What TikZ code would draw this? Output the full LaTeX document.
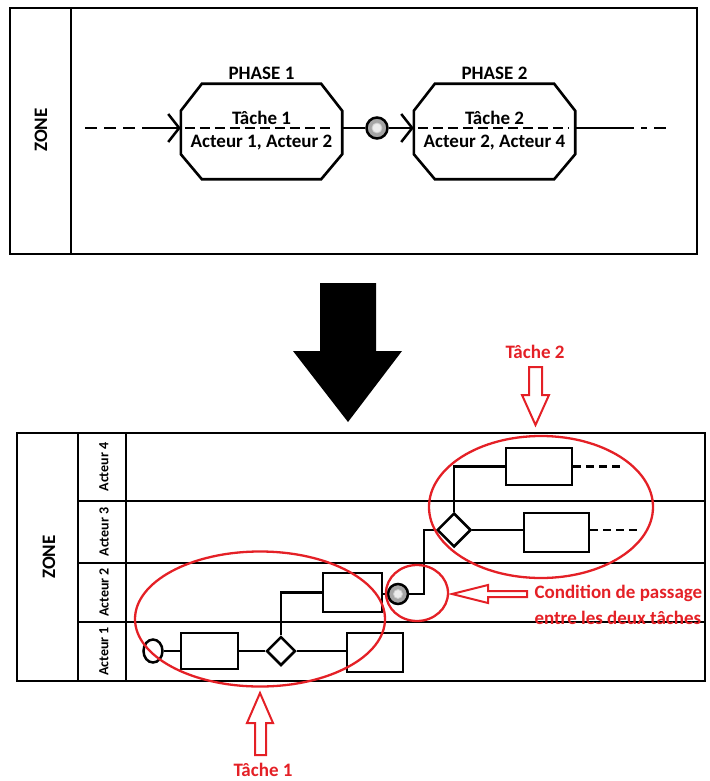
\documentclass[tikz,border=0pt]{standalone}
\usepackage{fontspec}
\setmainfont{Carlito}
\usetikzlibrary{arrows.meta, shapes.geometric, positioning, calc}
\definecolor{alertred}{RGB}{228,32,38}
\definecolor{condgray}{RGB}{165,165,165}

\begin{document}
\begin{tikzpicture}[
        x=1pt, y=-1pt,
        phase/.style={rectangle, minimum width=161pt, minimum height=95pt, inner sep=0pt},
        octline/.style={line width=2.6pt, line join=miter},
        task/.style={rectangle, draw, line width=2.5pt, inner sep=0pt},
        gate/.style={diamond, draw, line width=2.5pt, inner sep=0pt, aspect=1},
        cond/.style={circle, draw, line width=2.5pt, fill=condgray, minimum size=21pt, inner sep=0pt},
        frame/.style={line width=2.5pt},
        flow/.style={line width=2.5pt},
        tail/.style={line width=2.5pt, dash pattern=on 8pt off 5pt},
        barb/.style={line width=2.5pt, -{Straight Barb[length=11pt, width=28pt]}},
        hollow/.style={draw=alertred, line width=2pt, fill=white, line join=miter},
        redring/.style={draw=alertred, line width=2.3pt},
        redtext/.style={text=alertred, font=\fontsize{19}{26}\selectfont\bfseries},
        bigtext/.style={font=\fontsize{19}{23}\selectfont\bfseries},
        lanelabel/.style={rotate=90, font=\fontsize{14}{16}\selectfont\bfseries}
    ]
    \useasboundingbox (0,0) rectangle (709,781);

    % zone with phases
    \draw[frame] (10,8) rectangle (697,254);
    \draw[frame] (71,8) -- (71,254);
    \node[bigtext, rotate=90] (zoneA) at (41,130) {ZONE};

    \node[phase] (ph1) at (261.5,131.5) {};
    \node[phase] (ph2) at (494.5,131.5) {};
    \foreach \p in {ph1,ph2}
        \draw[octline] ($(\p.north west)+(21,0)$) -- ($(\p.north east)+(-21,0)$) -- ($(\p.north east)+(0,27)$)
            -- ($(\p.south east)+(0,-25)$) -- ($(\p.south east)+(-21,0)$) -- ($(\p.south west)+(21,0)$)
            -- ($(\p.south west)+(0,-25)$) -- ($(\p.north west)+(0,27)$) -- cycle;
    \node[bigtext, above=1pt of ph1] (ph1lbl) {PHASE 1};
    \node[bigtext, above=1pt of ph2] (ph2lbl) {PHASE 2};

    \draw[line width=2.6pt, dash pattern=on 10pt off 5pt] ($(ph1.west)+(4,-3.5)$) -- ($(ph1.east)+(-8,-3.5)$);
    \draw[line width=2.6pt, dash pattern=on 10pt off 5pt] ($(ph2.west)+(4,-3.5)$) -- ($(ph2.east)+(-6,-3.5)$);
    \node[bigtext] (t1) at ($(ph1.center)+(0,-14)$) {Tâche 1};
    \node[bigtext] (a1) at ($(ph1.center)+(0,11)$) {Acteur 1, Acteur 2};
    \node[bigtext] (t2) at ($(ph2.center)+(0,-14)$) {Tâche 2};
    \node[bigtext] (a2) at ($(ph2.center)+(0,11)$) {Acteur 2, Acteur 4};

    \node[cond] (gateA) at (377,128) {};
    \draw[gray!40, fill=gray!15, line width=0.8pt] (gateA) circle (5);

    \coordinate (inStart) at (85,128);
    \coordinate (inSolid) at (152,128);
    \coordinate (outSolid) at (622,128);
    \coordinate (outEnd) at (668,128);
    \draw[tail, dash pattern=on 12pt off 7pt] (inStart) -- (inSolid);
    \draw[barb] (inSolid) -- (ph1.west |- inSolid);
    \draw[flow] (ph1.east |- gateA) -- (gateA);
    \draw[barb] (gateA) -- (ph2.west |- gateA);
    \draw[flow] (ph2.east |- outSolid) -- (outSolid);
    \draw[tail, dash pattern=on 12pt off 7pt on 6pt off 7pt] (outSolid) -- (outEnd);

    % big arrow
    \fill (320,283) -- (376,283) -- (376,351) -- (402,351) -- (348,422) -- (293,351) -- (320,351) -- cycle;

    % zone with lanes
    \draw[frame] (17,433) rectangle (705,681);
    \draw[frame] (78,433) -- (78,681);
    \draw[frame] (126,433) -- (126,681);
    \foreach \y in {501,563,622}
        \draw[frame] (78,\y) -- (705,\y);
    \node[bigtext, rotate=90] (zoneB) at (49,557) {ZONE};
    \node[lanelabel] (lane4) at (104,467) {Acteur 4};
    \node[lanelabel] (lane3) at (104,532) {Acteur 3};
    \node[lanelabel] (lane2) at (104,592.5) {Acteur 2};
    \node[lanelabel] (lane1) at (104,651.5) {Acteur 1};

    \node[ellipse, draw, line width=2.5pt, minimum width=19pt, minimum height=23pt, inner sep=0pt] (start) at (153,651) {};
    \node[task, minimum width=57pt, minimum height=36pt] (taskA1) at (209.5,651) {};
    \node[gate, minimum width=29pt, minimum height=29pt] (gateB) at (281,651) {};
    \node[task, minimum width=56pt, minimum height=39pt] (taskA2) at (375,652.5) {};
    \node[task, minimum width=59pt, minimum height=39pt] (taskB1) at (352.5,592.5) {};
    \node[cond, minimum size=20pt] (gateC) at (398,594) {};
    \draw[gray!40, fill=gray!15, line width=0.8pt] (gateC) circle (4.5);
    \node[gate, minimum width=34pt, minimum height=34pt] (gateD) at (454,530) {};
    \node[task, minimum width=65pt, minimum height=39pt] (taskC1) at (556.5,532.5) {};
    \node[task, minimum width=66pt, minimum height=37pt] (taskD1) at (539,466.5) {};
    \coordinate (bend) at (424,594);
    \coordinate (endC) at (640,530);
    \coordinate (endD) at (620,466.5);

    \draw[flow] (start) -- (taskA1);
    \draw[flow] (taskA1) -- (gateB);
    \draw[flow] (gateB) -- (taskA2.west |- gateB);
    \draw[flow] (gateB.north) |- (taskB1.west);
    \draw[flow] (taskB1.east |- gateC) -- (gateC);
    \draw[flow] (gateC) -- (bend) |- (gateD.west);
    \draw[flow] (gateD.east) -- (taskC1.west |- gateD);
    \draw[flow] (gateD.north) |- (taskD1.west);
    \draw[tail] (taskC1.east |- endC) -- (endC);
    \draw[tail] (taskD1.east) -- (endD);

    % red notes
    \draw[redring] (260,619) ellipse (125 and 67.5);
    \draw[redring] (541,507) ellipse (112 and 71);
    \draw[redring] (417,593) ellipse (31 and 28);
    \draw[hollow] (260,693) -- (273,723) -- (266,723) -- (266,755) -- (255,755) -- (255,723) -- (247,723) -- cycle;
    \draw[hollow] (535.5,425) -- (549,395) -- (542,395) -- (542,367) -- (529,367) -- (529,395) -- (522,395) -- cycle;
    \draw[hollow] (452,594) -- (488,585) -- (488,591) -- (527,591) -- (527,597) -- (488,597) -- (488,603) -- cycle;
    \node[redtext, anchor=west, align=left] (condtext) at (531,605) {Condition de passage\\entre les deux tâches};
    \node[redtext] (lblA) at (263,770) {Tâche 1};
    \node[redtext] (lblB) at (535,352) {Tâche 2};
\end{tikzpicture}
\end{document}
